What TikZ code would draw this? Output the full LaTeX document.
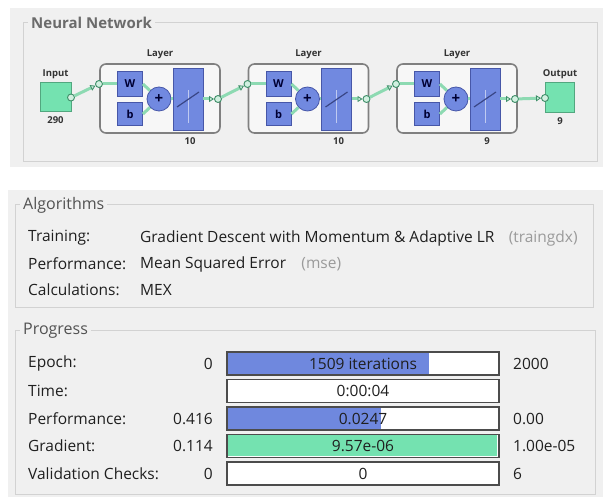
\documentclass[tikz,border=0pt]{standalone}
\usepackage{fontspec}
\setmainfont{Open Sans}
\usepackage{xcolor}
\usepackage{tikz}
\usetikzlibrary{arrows.meta, positioning}

\definecolor{panelbg}{HTML}{F0F0F0}
\definecolor{framegray}{HTML}{D2D2D2}
\definecolor{mint}{HTML}{74E2B0}
\definecolor{mintedge}{HTML}{52A77F}
\definecolor{wire}{HTML}{8DDAB2}
\definecolor{wiredark}{HTML}{3F8F69}
\definecolor{blockblue}{HTML}{7189E0}
\definecolor{blockedge}{HTML}{4757A8}
\definecolor{barblue}{HTML}{6F88DE}
\definecolor{barmint}{HTML}{74E2B0}
\definecolor{hint}{HTML}{9A9A9A}

\begin{document}
\begin{tikzpicture}[
  x=1pt, y=-1pt,
  frame/.style={draw=framegray, line width=1pt},
  paneltitle/.style={anchor=west, fill=panelbg, inner sep=3pt, text=black!68, font=\fontsize{16}{16}\selectfont},
  txt/.style={inner sep=0pt, text=black!88, font=\fontsize{15.5}{17}\selectfont},
  rowlbl/.style={txt, anchor=west},
  loval/.style={txt, anchor=east},
  hival/.style={txt, anchor=west},
  hinttxt/.style={txt, text=hint},
  tiny/.style={inner sep=0pt, text=black!80, font=\bfseries\fontsize{9.5}{10}\selectfont},
  term/.style={draw=mintedge, fill=mint, line width=1pt, minimum width=31pt, minimum height=29pt},
  layerbox/.style={draw=black!50, fill=white!97!black, line width=1.6pt, rounded corners=6pt, minimum width=120pt, minimum height=69pt},
  wbbox/.style={draw=blockedge, fill=blockblue, line width=0.8pt, minimum width=25pt, minimum height=25pt, inner sep=0pt, text=blue!20!black, font=\bfseries\fontsize{11}{11}\selectfont},
  sumnode/.style={circle, draw=blockedge, fill=blockblue, line width=0.8pt, minimum size=24pt, inner sep=0pt, text=blue!20!black, font=\bfseries\fontsize{15}{15}\selectfont},
  tfbox/.style={draw=blockedge, fill=blockblue, line width=0.8pt, minimum width=30pt, minimum height=62pt},
  dot/.style={circle, draw=wiredark, fill=wire!40!white, line width=0.9pt, minimum size=7pt, inner sep=0pt},
  wire/.style={draw=wire, line width=3pt},
  link/.style={wire, -{Triangle[length=5pt, width=6pt, fill=wire!50!white, color=wiredark, line width=0.8pt]}},
  bar/.style={draw=black!70, line width=1.6pt, minimum width=272pt, minimum height=23pt, inner sep=0pt, text=black!88, font=\fontsize{15.5}{17}\selectfont}
]
\useasboundingbox (0,0) rectangle (606,497);

% panels
\fill[panelbg] (10,8) rectangle (603,167);
\fill[panelbg] (8,190) rectangle (603,497);
\draw[frame] (23,23) rectangle (597,162);
\draw[frame] (15,205) rectangle (593,308);
\draw[frame] (15,331) rectangle (595,494);
\node[paneltitle, font=\bfseries\fontsize{15}{16}\selectfont, text=black!58] (nntitle) at (28,23) {Neural Network};
\node[paneltitle] (algtitle) at (20,205) {Algorithms};
\node[paneltitle] (progtitle) at (20,331) {Progress};

% network
\node[term] (inbox) at (55.5,97.5) {};
\node[tiny, above=4pt of inbox] (inlbl) {Input};
\node[tiny, below=4pt of inbox] (insize) {290};
\node[dot] (inport) at (71,97.5) {};

\node[term, minimum width=29pt, minimum height=30pt] (outbox) at (560,98) {};
\node[tiny, above=4pt of outbox] (outlbl) {Output};
\node[tiny, below=4pt of outbox] (outsize) {9};
\node[dot] (outport) at (545,98) {};

\foreach \i/\n in {1/10, 2/10, 3/9} {
  \pgfmathsetmacro{\lx}{100+148.5*(\i-1)}
  \node[layerbox] (lay\i) at (\lx+60,98.5) {};
  \node[tiny, above=4pt of lay\i] (laylbl\i) {Layer};
  \node[wbbox] (w\i) at (\lx+30,84) {W};
  \node[wbbox, minimum height=23pt] (b\i) at (\lx+30,114) {b};
  \node[sumnode] (s\i) at (\lx+59,99) {+};
  \node[tfbox] (f\i) at (\lx+88,99) {};
  \node[dot] (in\i) at (\lx-1,84) {};
  \node[dot] (out\i) at (\lx+118,99) {};
  \node[tiny] (size\i) at (\lx+90,141) {\n};
  \draw[wire] (in\i) -- (w\i);
  \draw[wire] (w\i.east) -- (s\i);
  \draw[wire] (b\i.east) -- (s\i);
  \draw[wire] (s\i) -- (f\i);
  \draw[link] (f\i) -- (out\i);
  \draw[white!55!blockblue, line width=0.8pt] (\lx+88,90) -- (\lx+88,123);
  \draw[blockedge!80!black, line width=1.2pt] (\lx+77,107) -- (\lx+99,92);
}

\draw[link] (inport) -- (in1);
\draw[link] (out1) -- (in2);
\draw[link] (out2) -- (in3);
\draw[link] (out3) -- (outport);

% algorithms
\node[rowlbl] (trainlbl) at (28,238) {Training:};
\node[rowlbl] (perflbl) at (28,264) {Performance:};
\node[rowlbl] (calclbl) at (28,290) {Calculations:};
\node[rowlbl] (trainval) at (140,238) {Gradient Descent with Momentum \& Adaptive LR};
\node[rowlbl] (perfval) at (140,264) {Mean Squared Error};
\node[rowlbl] (calcval) at (140,290) {MEX};
\node[hinttxt, right=14pt of trainval] (trainfn) {(traingdx)};
\node[hinttxt, right=15pt of perfval] (perffn) {(mse)};

% progress
\foreach \k/\lbl/\lo/\txt/\fx/\fc/\hi in {
    1/Epoch:/0/1509 iterations/429/barblue/2000,
    2/Time:/ /0:00:04/228/white/ ,
    3/Performance:/0.416/0.0247/381/barblue/0.00,
    4/Gradient:/0.114/9.57e-06/497/barmint/1.00e-05,
    5/Validation Checks:/0/0/228/white/6} {
  \pgfmathsetmacro{\ry}{363.5+27.5*(\k-1)}
  \node[rowlbl] (lbl\k) at (28,\ry) {\lbl};
  \node[loval] (lo\k) at (213,\ry) {\lo};
  \fill[white] (227,\ry-11.5) rectangle (499,\ry+11.5);
  \fill[\fc] (228,\ry-10.5) rectangle (\fx,\ry+10.5);
  \node[bar] (bar\k) at (363,\ry) {\txt};
  \node[hival] (hi\k) at (513,\ry) {\hi};
}
\end{tikzpicture}
\end{document}
